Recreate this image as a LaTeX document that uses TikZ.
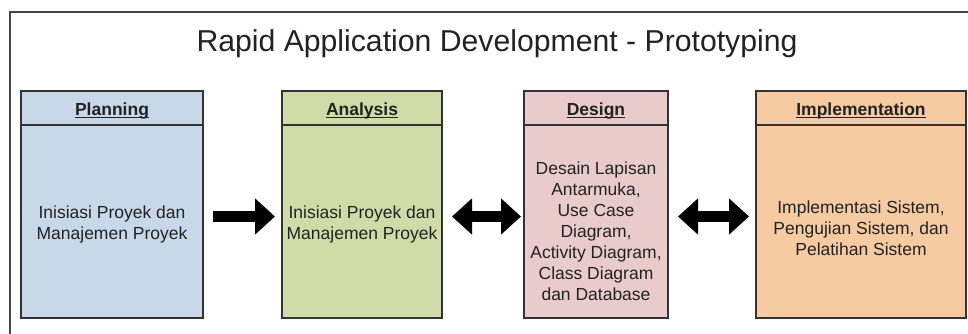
\documentclass[tikz,border=0pt]{standalone}
\usepackage{fontspec}
\setmainfont{Liberation Sans}
\usetikzlibrary{arrows.meta}
\definecolor{planc}{HTML}{C9D8E8}
\definecolor{anac}{HTML}{D0DCA8}
\definecolor{desc}{HTML}{EACBCB}
\definecolor{impc}{HTML}{F7CBA1}
\definecolor{boxline}{HTML}{333333}
\definecolor{framec}{HTML}{444444}
\definecolor{textc}{HTML}{222222}
\begin{document}
\begin{tikzpicture}[x=1pt,y=-1pt,
  box/.style={draw=boxline, line width=1.4pt, inner sep=0pt, outer sep=0pt, minimum height=227pt, anchor=north west},
  sep/.style={draw=boxline, line width=1.4pt},
  hdr/.style={font=\fontsize{17.5}{21}\selectfont\bfseries, inner sep=0pt, anchor=base, text=textc},
  uline/.style={draw=textc, line width=1.2pt},
  body/.style={font=\fontsize{17.5}{21}\selectfont, align=center, inner sep=0pt, text=textc},
  bigarrow/.style={line width=11pt, draw=black, -{Triangle[length=20pt,width=35pt]}},
  dblarrow/.style={line width=11pt, draw=black, {Triangle[length=20pt,width=35pt]}-{Triangle[length=20pt,width=35pt]}},
  framel/.style={draw=framec, line width=1.5pt}
]
\useasboundingbox (0,0) rectangle (968,333);
\fill[white] (0,0) rectangle (968,333);
\draw[framel] (10,345) -- (10,12) -- (980,12);

\node[font=\fontsize{30.2}{36}\selectfont, text=textc, anchor=base, inner sep=0pt] (title) at (497,51) {Rapid Application Development - Prototyping};

% boxes
\node[box, fill=planc, minimum width=182pt] (plan) at (21,91) {};
\node[box, fill=anac, minimum width=160pt] (ana) at (282,91) {};
\node[box, fill=desc, minimum width=144pt] (des) at (524,91) {};
\node[box, fill=impc, minimum width=210pt] (imp) at (756,91) {};

\foreach \b in {plan,ana,des,imp}{
  \draw[sep] (\b.west |- 0,125) -- (\b.east |- 0,125);
}

% headers
\node[hdr] (planh) at (plan.north |- 0,115) {Planning};
\node[hdr] (anah) at (ana.north |- 0,115) {Analysis};
\node[hdr] (desh) at (des.north |- 0,115) {Design};
\node[hdr] (imph) at (imp.north |- 0,115) {Implementation};
\foreach \h in {planh,anah,desh,imph}{
  \draw[uline] ([yshift=-2.6pt]\h.base west) -- ([yshift=-2.6pt]\h.base east);
}

% body texts
\node[body] (plant) at (plan.north |- 0,224.5) {Inisiasi Proyek dan\\Manajemen Proyek};
\node[body] (anat) at (ana.north |- 0,224.5) {Inisiasi Proyek dan\\Manajemen Proyek};
\node[body] (dest) at (des.north |- 0,231.5) {Desain Lapisan\\Antarmuka,\\Use Case\\Diagram,\\Activity Diagram,\\Class Diagram\\dan Database};
\node[body] (impt) at (imp.north |- 0,228) {Implementasi Sistem,\\Pengujian Sistem, dan\\Pelatihan Sistem};

% arrows
\coordinate (ay) at (0,216.5);
\draw[bigarrow, shorten <=10pt, shorten >=7pt] (plan.east |- ay) -- (ana.west |- ay);
\draw[dblarrow, shorten <=10pt, shorten >=3pt] (ana.east |- ay) -- (des.west |- ay);
\draw[dblarrow, shorten <=10pt, shorten >=7pt] (des.east |- ay) -- (imp.west |- ay);
\end{tikzpicture}
\end{document}
